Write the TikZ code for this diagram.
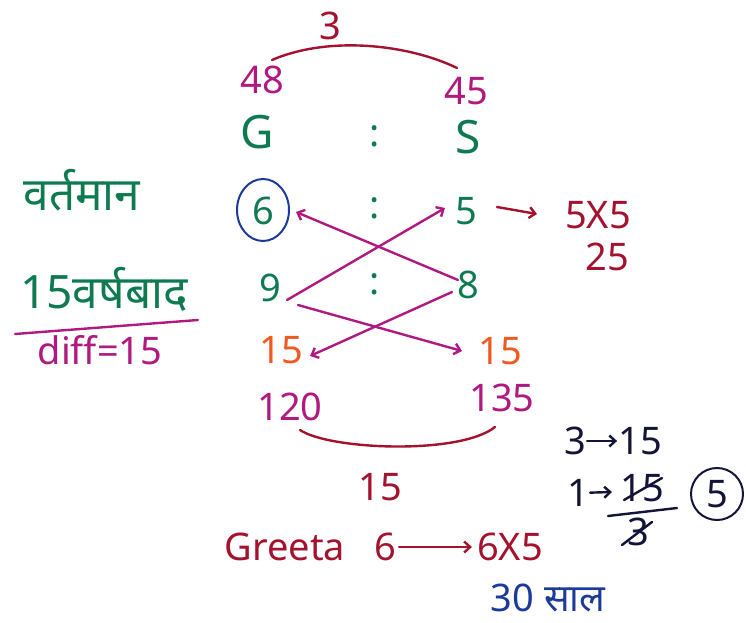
\documentclass[tikz,border=0pt]{standalone}
\usepackage{fontspec}
\setmainfont{Noto Sans}
\newfontfamily\dev[Script=Devanagari]{Noto Sans}
\usetikzlibrary{arrows.meta}
\definecolor{grn}{HTML}{0E7A50}
\definecolor{mag}{HTML}{B01A80}
\definecolor{dred}{HTML}{A3122E}
\definecolor{org}{HTML}{F05A22}
\definecolor{blu}{HTML}{1B3A9A}
\definecolor{navy}{HTML}{141438}
\tikzset{
  txt/.style={inner sep=1pt, font=\fontsize{38}{40}\selectfont},
  big/.style={inner sep=1pt, font=\fontsize{46}{50}\selectfont},
  dtxt/.style={inner sep=1pt, font=\dev\fontsize{46}{50}\selectfont},
  pen/.style={line width=2.4pt, line cap=round},
  arr/.style={pen, -{Straight Barb[length=6pt,width=11pt]}},
}
\begin{document}
\begin{tikzpicture}[x=1pt,y=-1pt]
\useasboundingbox (0,0) rectangle (746,623);
% top
\node[txt, dred] (three) at (330,26) {3};
\coordinate (ta) at (272,60);
\coordinate (tb) at (457,68);
\draw[pen, dred] (ta) .. controls (330,35) and (410,45) .. (tb);
\node[txt, mag] (n48) at (262,80) {48};
\node[txt, mag] (n45) at (466,91) {45};
\node[big, grn] (G) at (257,132) {G};
\node[txt, grn] (c1) at (375,136) {:};
\node[big, grn] (S) at (468,137) {S};
% left labels
\node[dtxt, grn] (vart) at (82,190) {वर्तमान};
\node[dtxt, grn] (baad) at (104,289) {15वर्षबाद};
\coordinate (la) at (15,334);
\coordinate (lb) at (198,320);
\draw[pen, mag] (la) -- (lb);
\node[txt, mag] (diff) at (100,350) {diff=15};
% row 1
\node[txt, grn] (six) at (263,211) {6};
\draw[blu, line width=2pt] (263,210) ellipse (26pt and 31pt);
\node[txt, grn] (c2) at (375,208) {:};
\node[txt, grn] (five) at (466,211) {5};
\node[txt, dred] (fxf) at (598,215) {5X5};
\node[txt, dred] (tf) at (607,257) {25};
\coordinate (fa) at (497,207);
\coordinate (fb) at (537,214);
\draw[arr, dred] (fa) -- (fb);
% row 2
\node[txt, grn] (nine) at (270,288) {9};
\node[txt, grn] (c3) at (375,284) {:};
\node[txt, grn] (eight) at (468,285) {8};
% row 3
\node[txt, org] (fl) at (281,350) {15};
\node[txt, org] (fr) at (500,351) {15};
% cross arrows
\coordinate (s9a) at (287,300);
\coordinate (s9b) at (298,305);
\coordinate (s8a) at (458,280);
\coordinate (s8b) at (452,292);
\coordinate (e5) at (445,208);
\coordinate (e6) at (296,212);
\coordinate (efr) at (462,351);
\coordinate (efl) at (310,356);
\draw[arr, mag] (s9a) -- (e5);
\draw[arr, mag] (s8a) -- (e6);
\draw[arr, mag] (s9b) -- (efr);
\draw[arr, mag] (s8b) -- (efl);
% bottom
\node[txt, mag] (n120) at (290,407) {120};
\node[txt, mag] (n135) at (502,398) {135};
\coordinate (ba) at (300,430);
\coordinate (bb) at (495,427);
\draw[pen, dred] (ba) .. controls (330,450) and (460,455) .. (bb);
\node[txt, dred] (f15) at (380,487) {15};
% right calc
\node[txt, navy] (r3) at (575,441) {3};
\node[txt, navy] (r15) at (640,441) {15};
\draw[arr, navy] (r3) -- (r15);
\node[txt, navy] (r1) at (578,493) {1};
\coordinate (r1e) at (612,492);
\draw[arr, navy] (r1) -- (r1e);
\node[txt, navy] (fnum) at (642,488) {15};
\node[txt, navy] (fden) at (638,532) {3};
\coordinate (fla) at (608,516);
\coordinate (flb) at (677,508);
\draw[pen, navy] (fla) -- (flb);
\draw[pen, navy] (624,500) -- (662,478);
\draw[pen, navy] (622,545) -- (652,522);
\node[txt, navy] (c5) at (717,494) {5};
\draw[navy, line width=2pt] (c5.center) circle (26pt);
% Greeta
\node[txt, dred] (greeta) at (285,547) {Greeta};
\node[txt, dred] (g6) at (385,547) {6};
\node[txt, dred] (g6x5) at (510,547) {6X5};
\draw[arr, dred, shorten <=2pt, shorten >=4pt] (g6) -- (g6x5);
\node[txt, blu] (thirty) at (548,598) {30 {\dev साल}};
\end{tikzpicture}
\end{document}
